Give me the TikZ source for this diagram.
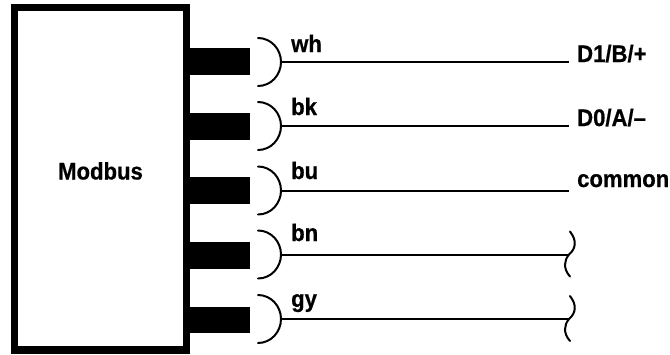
\documentclass[tikz,border=0pt]{standalone}
\usepackage{fontspec}
\setmainfont[FakeStretch=0.92,BoldFeatures={FakeBold=0.6}]{Liberation Sans}
\tikzset{
  boxstyle/.style={draw=black,line width=7.5pt,fill=white,inner sep=0pt},
  stub/.style={fill=black,inner sep=0pt,minimum width=60pt,minimum height=26.5pt},
  lab/.style={font=\fontsize{24}{26}\selectfont\bfseries,inner sep=0pt,anchor=base west},
  term/.style={font=\fontsize{24}{26}\selectfont\bfseries,inner xsep=8pt,inner ysep=0pt,anchor=base west},
  wire/.style={draw=black,line width=2pt},
  cup/.style={draw=black,line width=2pt,line cap=round}
}
\newcommand{\cupshape}[1]{%
  \draw[cup] ([shift={(-23,-24)}]#1) .. controls ([shift={(-10,-24)}]#1) and ([shift={(0,-13)}]#1) .. (#1) .. controls ([shift={(0,13)}]#1) and ([shift={(-10,24)}]#1) .. ([shift={(-23,24)}]#1);}
\newcommand{\squig}[1]{%
  \draw[cup] ([shift={(1,-23)}]#1) .. controls ([shift={(8,-14)}]#1) and ([shift={(7,-6)}]#1) .. ([shift={(0,0)}]#1) .. controls ([shift={(-5,6)}]#1) and ([shift={(-6,14)}]#1) .. ([shift={(1,22)}]#1);}
\begin{document}
\begin{tikzpicture}[x=1pt,y=-1pt]
\useasboundingbox (0,0) rectangle (670,354);
\node[boxstyle,minimum width=172pt,minimum height=342.5pt] (box) at (100.5,178.75) {};
\node[lab] (modbus) at (58,179.5) {Modbus};
\node[stub] (s1) at (220,61.7) {};
\node[stub] (s2) at (220,126.5) {};
\node[stub] (s3) at (220,190.5) {};
\node[stub] (s4) at (220,255.5) {};
\node[stub] (s5) at (220,320) {};
\coordinate (a1) at (281,62);
\coordinate (a2) at (281,126);
\coordinate (a3) at (281,190.5);
\coordinate (a4) at (281,254.5);
\coordinate (a5) at (281,319);
\foreach \n in {a1,a2,a3,a4,a5}{\cupshape{\n}}
\node[lab] (l1) at (291,52) {wh};
\node[lab] (l2) at (291,115) {bk};
\node[lab] (l3) at (291,179) {bu};
\node[lab] (l4) at (291,241) {bn};
\node[lab] (l5) at (291,307) {gy};
\node[term] (t1) at (569,62) {D1/B/+};
\node[term] (t2) at (569,126) {D0/A/--};
\node[term] (t3) at (569,187) {common};
\coordinate (e3) at (569,190.5);
\coordinate (e4) at (569,254.5);
\coordinate (e5) at (569,319);
\draw[wire] (a1) -- (t1.base west);
\draw[wire] (a2) -- (t2.base west);
\draw[wire] (a3) -- (e3);
\draw[wire] (a4) -- (e4);
\draw[wire] (a5) -- (e5);
\squig{e4}
\squig{e5}
\end{tikzpicture}
\end{document}
